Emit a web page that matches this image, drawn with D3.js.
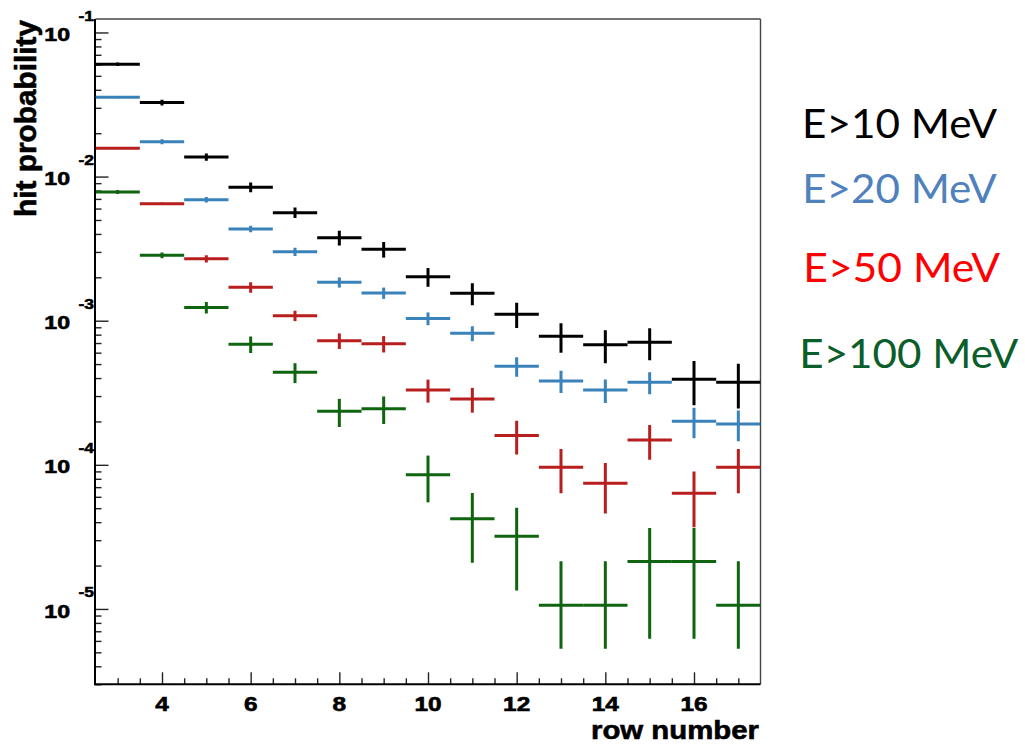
<!DOCTYPE html>
<html><head><meta charset="utf-8">
<script src="https://cdn.jsdelivr.net/npm/d3@7"></script>
<style>body{margin:0;background:#fff} svg{display:block}</style>
</head><body><svg id="c" width="1025" height="746"></svg>
<script>
const rows = [3,4,5,6,7,8,9,10,11,12,13,14,15,16,17];
const xTickValues = [4,6,8,10,12,14,16];
const yDecades = [-1,-2,-3,-4,-5];
const seriesNames = ["E>10 MeV","E>20 MeV","E>50 MeV","E>100 MeV"];
const markColors = ["#000000","#3a82ba","#b81e1e","#0f640f"];
const legendColors = ["#000000","#4f81bd","#ff0000","#0b5d2a"];

const e10Val = [0.0602,0.0326,0.01368,0.00843,0.00562,0.00377,0.00313,0.00202,0.00155,0.00111,0.000779,0.000682,0.000708,0.000392,0.000374];
const e10Err = [0.0016,0.0015,0.0008,0.00065,0.00047,0.00044,0.00039,0.0003,0.00027,0.00022,0.00018,0.000175,0.000177,0.000133,0.000128];

const e20Val = [0.0355,0.01747,0.00691,0.00433,0.00301,0.001847,0.001557,0.001036,0.000818,0.000483,0.000382,0.00033,0.000374,0.000201,0.000192];
const e20Err = [0.0005,0.0007,0.0003,0.00022,0.0002,0.00015,0.00014,0.000105,0.000097,0.000074,0.000067,0.000061,0.000065,0.000048,0.000046];

const e50Val = [0.01572,0.00648,0.00269,0.001705,0.001083,0.000726,0.000692,0.00033,0.000286,0.00016,0.0000961,0.0000744,0.0001486,0.0000634,0.0000961];
const e50Err = [0.0002,0.00013,0.00016,0.00014,0.00009,0.00009,0.00009,0.00006,0.000056,0.000042,0.0000327,0.0000284,0.00004,0.0000265,0.0000327];

const e100Val = [0.00782,0.00284,0.001235,0.000686,0.000438,0.000235,0.000245,0.0000854,0.0000423,0.0000319,0.0000106,0.0000106,0.0000213,0.0000213,0.0000106];
const e100ErrHigh = [0.00025,0.00013,0.000115,0.00009,0.000069,0.000052,0.000053,0.0000305,0.0000214,0.0000185,0.0000108,0.0000108,0.0000151,0.0000151,0.0000108];
const e100ErrLow  = [0.00025,0.00013,0.000115,0.00009,0.000069,0.000052,0.000053,0.0000305,0.0000214,0.0000185,0.0000053,0.0000053,0.0000151,0.0000151,0.0000053];

const series = [
  {val:e10Val, lo:e10Err, hi:e10Err},
  {val:e20Val, lo:e20Err, hi:e20Err},
  {val:e50Val, lo:e50Err, hi:e50Err},
  {val:e100Val, lo:e100ErrLow, hi:e100ErrHigh}
];

const svg = d3.select("#c");
const x = d3.scaleLinear().domain([2.5,17.5]).range([95.5,760.5]);
const y = d3.scaleLog().domain([3e-6,0.124]).range([684.3,19]);
const [x0,x1] = x.range(); const [yB,yT] = y.range();

svg.append("defs").append("clipPath").attr("id","pc")
  .append("rect").attr("x",x0).attr("y",yT).attr("width",x1-x0).attr("height",yB-yT);

// frame
svg.append("line").attr("x1",x0).attr("x2",x1).attr("y1",yT).attr("y2",yT).attr("stroke","#444").attr("stroke-width",1.4);
svg.append("line").attr("x1",x1).attr("x2",x1).attr("y1",yT).attr("y2",yB).attr("stroke","#444").attr("stroke-width",1.4);

// x axis ticks
const xMinor = d3.range(3,17.01,0.5).filter(v=>!xTickValues.includes(v));
svg.append("g").attr("transform",`translate(0,${yB})`)
  .call(d3.axisBottom(x).tickValues(xMinor).tickSizeInner(-6).tickSizeOuter(0).tickFormat(""))
  .call(g=>{g.select(".domain").remove(); g.selectAll("line").attr("stroke","#222").attr("stroke-width",1.4);});
svg.append("g").attr("transform",`translate(0,${yB})`)
  .call(d3.axisBottom(x).tickValues(xTickValues).tickSizeInner(-12).tickSizeOuter(0).tickFormat(""))
  .call(g=>{g.select(".domain").remove(); g.selectAll("line").attr("stroke","#222").attr("stroke-width",1.4);});

// y axis ticks
const yMajor = yDecades.map(k=>Math.pow(10,k));
const yMinor = [];
[-6,-5,-4,-3,-2].forEach(k=>{for(let m=2;m<=9;m++){const v=m*Math.pow(10,k); if(v>=3e-6 && v<=0.124) yMinor.push(v);}});
svg.append("g").attr("transform",`translate(${x0},0)`)
  .call(d3.axisLeft(y).tickValues(yMinor).tickSizeInner(-6).tickSizeOuter(0).tickFormat(""))
  .call(g=>{g.select(".domain").remove(); g.selectAll("line").attr("stroke","#222").attr("stroke-width",1.4);});
svg.append("g").attr("transform",`translate(${x0},0)`)
  .call(d3.axisLeft(y).tickValues(yMajor).tickSizeInner(-13).tickSizeOuter(0).tickFormat(""))
  .call(g=>{g.select(".domain").remove(); g.selectAll("line").attr("stroke","#222").attr("stroke-width",1.4);});

// axes lines
svg.append("line").attr("x1",x0-0.5).attr("x2",x0-0.5).attr("y1",yT).attr("y2",yB+1).attr("stroke","#000").attr("stroke-width",2);
svg.append("line").attr("x1",x0-1).attr("x2",x1).attr("y1",yB).attr("y2",yB).attr("stroke","#000").attr("stroke-width",2);

const F = "'Liberation Sans', Arial, Helvetica, sans-serif";
// x tick labels
xTickValues.forEach(v=>{
  svg.append("text").attr("transform",`translate(${x(v)},710.5) scale(1.25,1)`)
    .attr("text-anchor","middle").attr("font-family",F).attr("font-weight","bold").attr("font-size",19.5)
    .attr("stroke","#000").attr("stroke-width",0.6)
    .attr("fill","#000").text(v);
});
// y tick labels
yDecades.forEach(k=>{
  const ty = y(Math.pow(10,k));
  svg.append("text").attr("transform",`translate(70,${ty+8.6}) scale(1.25,1)`)
    .attr("text-anchor","end").attr("font-family",F).attr("font-weight","bold").attr("font-size",18.5)
    .attr("stroke","#000").attr("stroke-width",0.6)
    .attr("fill","#000").text("10");
  svg.append("text").attr("transform",`translate(94,${ty-11.6}) scale(1.25,1)`)
    .attr("text-anchor","end").attr("font-family",F).attr("font-weight","bold").attr("font-size",14)
    .attr("stroke","#000").attr("stroke-width",0.5)
    .attr("fill","#000").text(String(k));
});
// axis titles
svg.append("text").attr("x",591).attr("y",739).attr("textLength",168).attr("lengthAdjust","spacingAndGlyphs")
  .attr("font-family",F).attr("font-weight","bold").attr("font-size",26).attr("stroke","#000").attr("stroke-width",0.6)
  .attr("fill","#000").text("row number");
svg.append("text").attr("transform","translate(36,217) rotate(-90)").attr("textLength",197).attr("lengthAdjust","spacingAndGlyphs")
  .attr("font-family",F).attr("font-weight","bold").attr("font-size",30).attr("stroke","#000").attr("stroke-width",0.6)
  .attr("fill","#000").text("hit probability");

// data
const plot = svg.append("g").attr("clip-path","url(#pc)");
series.forEach((s,i)=>{
  const g = plot.append("g").attr("stroke",markColors[i]).attr("stroke-width",3);
  rows.forEach((r,j)=>{
    const v = s.val[j];
    g.append("line").attr("x1",x(r-0.5)).attr("x2",x(r+0.5)).attr("y1",y(v)).attr("y2",y(v));
    const low = Math.max(v - s.lo[j], 3e-6);
    g.append("line").attr("x1",x(r)).attr("x2",x(r)).attr("y1",y(v + s.hi[j])).attr("y2",y(low));
  });
});

// legend
const legendPos = [[802,137.7,195],[802.3,203.3,194.4],[803.3,282.3,196.7],[799.3,368.3,219]];
seriesNames.forEach((n,i)=>{
  svg.append("text").attr("x",legendPos[i][0]).attr("y",legendPos[i][1])
    .attr("textLength",legendPos[i][2]).attr("lengthAdjust","spacingAndGlyphs")
    .attr("font-family","Lato, 'Open Sans', sans-serif").attr("font-size",40)
    .attr("fill",legendColors[i]).text(n);
});
</script></body></html>
